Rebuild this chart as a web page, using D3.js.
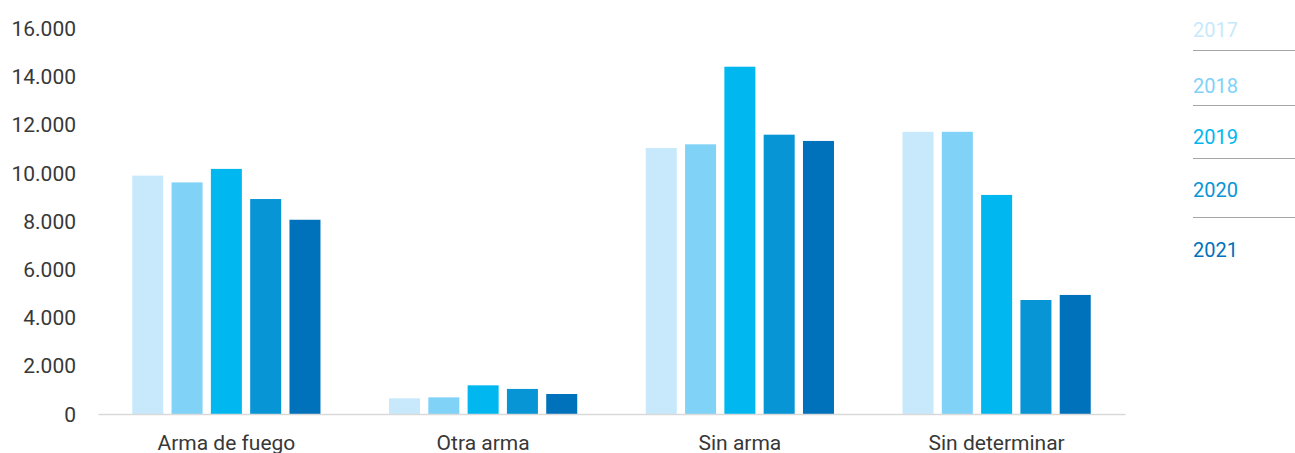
<!DOCTYPE html>
<html><head><meta charset="utf-8">
<script src="https://cdn.jsdelivr.net/npm/d3@7"></script>
<style>
html,body{margin:0;padding:0;background:#fff;}
svg{display:block;font-family:Roboto,"Open Sans",sans-serif;}
</style></head>
<body>
<svg id="chart" width="1295" height="453"></svg>
<script>
const categories = ["Arma de fuego", "Otra arma", "Sin arma", "Sin determinar"];
const years = ["2017", "2018", "2019", "2020", "2021"];
const v2017 = [9890, 650, 11040, 11710];
const v2018 = [9610, 690, 11190, 11710];
const v2019 = [10170, 1190, 14410, 9090];
const v2020 = [8920, 1040, 11590, 4730];
const v2021 = [8060, 830, 11330, 4940];
const yTicks = [0, 2000, 4000, 6000, 8000, 10000, 12000, 14000, 16000];
const colors = ["#c7e9fb", "#80d2f7", "#00b8ef", "#0895d6", "#0072bb"];
const series = [v2017, v2018, v2019, v2020, v2021];

const svg = d3.select("#chart");
const mLeft = 98, mRight = 1125, mTop = 28.4, mBottom = 414;

const x0 = d3.scaleBand().domain(categories).range([mLeft, mRight]).paddingInner(0).paddingOuter(0);
const x1 = d3.scaleBand().domain(years).range([0, x0.bandwidth()]).paddingInner(0.211).paddingOuter(0.872);
const y = d3.scaleLinear().domain([0, 16000]).range([mBottom, mTop]);

const fmt = d => d3.format(",")(d).replace(/,/g, ".");

// y axis labels
const yAxis = d3.axisLeft(y).tickValues(yTicks).tickFormat(fmt).tickSize(0).tickPadding(0);
const ya = svg.append("g").attr("transform", "translate(76,0)").call(yAxis);
ya.select(".domain").remove();
ya.selectAll("text").attr("fill", "#383838").style("font-size", "21px").style("font-family", "Roboto").style("font-weight", 400).attr("dy", "0.34em");

// bars
categories.forEach((c, ci) => {
  const g = svg.append("g").attr("transform", `translate(${x0(c)},0)`);
  years.forEach((yr, si) => {
    const v = series[si][ci];
    g.append("rect")
      .attr("x", x1(yr))
      .attr("width", x1.bandwidth())
      .attr("y", y(v))
      .attr("height", y(0) - y(v))
      .attr("fill", colors[si]);
  });
});

// x axis
const xAxis = d3.axisBottom(x0).tickSize(0).tickPadding(0);
const xa = svg.append("g").attr("transform", `translate(0,${mBottom})`).call(xAxis);
xa.select(".domain").attr("stroke", "#d9d9d9").attr("stroke-width", 1.5);
xa.selectAll("text").attr("fill", "#383838").style("font-size", "21px").style("font-family", "Roboto").style("font-weight", 400).attr("y", 36).attr("dy", 0);

// legend
const legendTextY = [30, 86, 137, 190, 250];
const legendLineY = [50.5, 105.5, 158.5, 217.5];
const lg = svg.append("g");
years.forEach((yr, i) => {
  lg.append("text").attr("x", 1193).attr("y", legendTextY[i]).attr("dy", "0.35em")
    .attr("fill", colors[i]).style("font-size", "20px").text(yr);
});
legendLineY.forEach(ly => {
  lg.append("line").attr("x1", 1193).attr("x2", 1295).attr("y1", ly).attr("y2", ly)
    .attr("stroke", "#a6a6a6").attr("stroke-width", 1);
});
</script>
</body></html>
